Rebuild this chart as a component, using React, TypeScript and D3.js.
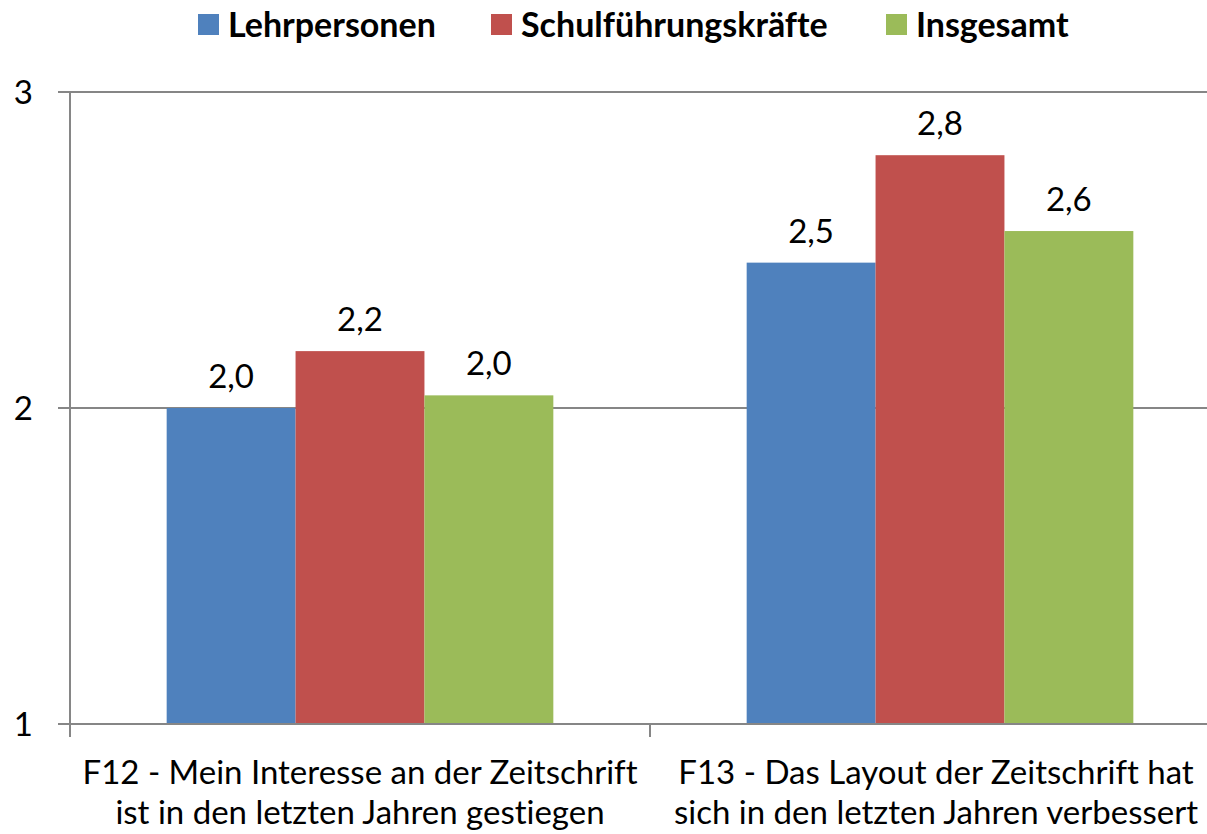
import React, { useEffect, useRef } from 'react';
import * as d3 from 'd3';

const categories = [
  ['F12 - Mein Interesse an der Zeitschrift', 'ist in den letzten Jahren gestiegen'],
  ['F13 - Das Layout der Zeitschrift hat', 'sich in den letzten Jahren verbessert']
];
const seriesNames = ['Lehrpersonen', 'Schulführungskräfte', 'Insgesamt'];
const lehrpersonen = [2.0, 2.46];
const schulfuehrung = [2.18, 2.8];
const insgesamt = [2.04, 2.56];
const yTicks = [1, 2, 3];
const colors = ['#4F81BD', '#C0504D', '#9BBB59'];

const App = () => {
  const width = 1207;
  const height = 834;
  const margin = { top: 92, right: -23, bottom: 110, left: 70 };
  const innerWidth = width - margin.left - margin.right;
  const innerHeight = height - margin.top - margin.bottom;
  const svgRef = useRef<SVGSVGElement | null>(null);

  useEffect(() => {
    document.body.style.margin = '0';
    const font = "Lato, 'Open Sans', sans-serif";
    const values = [lehrpersonen, schulfuehrung, insgesamt];
    const keys = categories.map((c, i) => String(i));

    d3.select(svgRef.current).selectAll('*').remove();
    const root = d3
      .select(svgRef.current)
      .attr('width', width)
      .attr('height', height)
      .style('font-variant-ligatures', 'none');

    const svg = root.append('g').attr('transform', `translate(${margin.left},${margin.top})`);

    const x = d3.scaleBand<string>().domain(keys).range([0, innerWidth]).paddingInner(0).paddingOuter(0);
    // Excel gap width 150%: 3 bars + 1.5 bars of gap per category
    const barW = x.bandwidth() / 4.5;
    const y = d3.scaleLinear().domain([1, 3]).range([innerHeight, 0]);

    // gridlines
    svg
      .selectAll('line.grid')
      .data(yTicks.filter((t) => t > 1))
      .enter()
      .append('line')
      .attr('x1', -12)
      .attr('x2', width - margin.left)
      .attr('y1', (d) => y(d))
      .attr('y2', (d) => y(d))
      .attr('stroke', '#868686')
      .attr('stroke-width', 2);

    // bars + value labels
    values.forEach((arr, s) => {
      svg
        .selectAll(`rect.s${s}`)
        .data(arr)
        .enter()
        .append('rect')
        .attr('x', (d, i) => (x(keys[i]) as number) + barW * 0.75 + s * barW)
        .attr('y', (d) => y(d))
        .attr('width', barW)
        .attr('height', (d) => innerHeight - y(d))
        .attr('fill', colors[s]);

      svg
        .selectAll(`text.l${s}`)
        .data(arr)
        .enter()
        .append('text')
        .attr('x', (d, i) => (x(keys[i]) as number) + barW * 0.75 + s * barW + barW / 2)
        .attr('y', (d) => y(d) - 20)
        .attr('text-anchor', 'middle')
        .style('font-family', font)
        .style('font-size', '33px')
        .style('fill', '#000')
        .text((d) => d3.format('.1f')(d).replace('.', ','));
    });

    // y axis line
    svg
      .append('line')
      .attr('x1', 0)
      .attr('x2', 0)
      .attr('y1', 0)
      .attr('y2', innerHeight)
      .attr('stroke', '#868686')
      .attr('stroke-width', 2);

    // x axis line
    svg
      .append('line')
      .attr('x1', -12)
      .attr('x2', width - margin.left)
      .attr('y1', innerHeight)
      .attr('y2', innerHeight)
      .attr('stroke', '#868686')
      .attr('stroke-width', 2);

    // category ticks
    svg
      .selectAll('line.xtick')
      .data(keys.concat(['end']))
      .enter()
      .append('line')
      .attr('x1', (d, i) => i * x.bandwidth())
      .attr('x2', (d, i) => i * x.bandwidth())
      .attr('y1', innerHeight)
      .attr('y2', innerHeight + 13)
      .attr('stroke', '#868686')
      .attr('stroke-width', 2);

    // y tick labels
    svg
      .selectAll('text.ytick')
      .data(yTicks)
      .enter()
      .append('text')
      .attr('x', -37)
      .attr('y', (d) => y(d))
      .attr('dy', '0.36em')
      .attr('text-anchor', 'end')
      .style('font-family', font)
      .style('font-size', '33px')
      .style('fill', '#000')
      .text((d) => d);

    // category labels
    const catLabels = svg
      .selectAll('text.cat')
      .data(categories)
      .enter()
      .append('text')
      .attr('text-anchor', 'middle')
      .style('font-family', font)
      .style('font-size', '33px')
      .style('fill', '#000');
    catLabels
      .selectAll('tspan')
      .data((d, i) => d.map((line) => ({ line, i })))
      .enter()
      .append('tspan')
      .attr('x', (d) => (x(keys[d.i]) as number) + x.bandwidth() / 2 - (d.i === 1 ? 4 : 0))
      .attr('y', (d, j) => innerHeight + 60 + j * 40)
      .text((d) => d.line);

    // legend
    const legendX = [198, 491, 886];
    const legend = root
      .selectAll('g.legend')
      .data(seriesNames)
      .enter()
      .append('g')
      .attr('transform', (d, i) => `translate(${legendX[i]},14)`);
    legend
      .append('rect')
      .attr('width', 21)
      .attr('height', 21)
      .attr('fill', (d, i) => colors[i]);
    legend
      .append('text')
      .attr('x', 30)
      .attr('y', 23)
      .style('font-family', font)
      .style('font-size', '34px')
      .style('font-weight', 'bold')
      .style('fill', '#000')
      .text((d) => d);
  }, []);

  return <svg ref={svgRef} style={{ display: 'block' }}></svg>;
};

export default App;
